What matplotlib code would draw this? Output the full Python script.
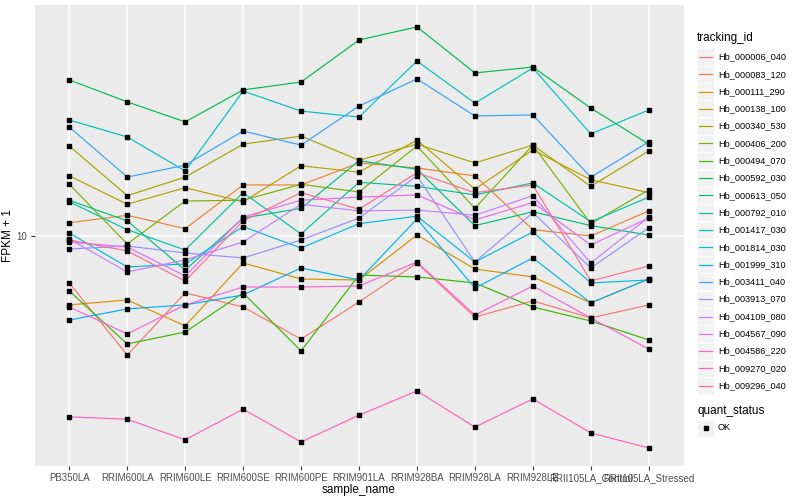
import matplotlib
matplotlib.use("Agg")
import matplotlib.pyplot as plt
from matplotlib.patches import Rectangle
from matplotlib.lines import Line2D
from matplotlib.ticker import NullLocator

plt.rcParams['font.family'] = ['Liberation Sans', 'DejaVu Sans']

samples = ["PB350LA", "RRIM600LA", "RRIM600LE", "RRIM600SE", "RRIM600PE", "RRIM901LA",
           "RRIM928BA", "RRIM928LA", "RRIM928LE", "RRII105LA_Control", "RRII105LA_Stressed"]

tracking_ids = ["Hb_000006_040", "Hb_000083_120", "Hb_000111_290", "Hb_000138_100",
                "Hb_000340_530", "Hb_000406_200", "Hb_000494_070", "Hb_000592_030",
                "Hb_000613_050", "Hb_000792_010", "Hb_001417_030", "Hb_001814_030",
                "Hb_001999_310", "Hb_003411_040", "Hb_003913_070", "Hb_004109_080",
                "Hb_004567_090", "Hb_004586_220", "Hb_009270_020", "Hb_009296_040"]

# ggplot default hue palette for 20 levels
colors = ["#F8766D", "#EA8331", "#D89000", "#C09B00", "#A3A500", "#7CAE00", "#39B600",
          "#00BB4E", "#00BF7D", "#00C1A3", "#00BFC4", "#00BAE0", "#00B0F6", "#35A2FF",
          "#9590FF", "#C77CFF", "#E76BF3", "#FA62DB", "#FF62BC", "#FF6C91"]

# FPKM + 1, one list per tracking_id, in sample order
hb_000006_040 = [6.49, 3.34, 5.92, 5.20, 3.87, 5.45, 7.80, 4.74, 5.50, 4.70, 5.30]
hb_000083_120 = [11.3, 12.1, 10.7, 16.0, 16.0, 19.6, 18.7, 17.4, 10.6, 10.0, 12.6]
hb_000111_290 = [5.30, 5.55, 4.37, 7.80, 6.73, 6.67, 10.09, 7.38, 6.86, 5.40, 6.73]
hb_000138_100 = [17.4, 13.4, 15.6, 13.7, 19.1, 18.0, 24.2, 15.4, 22.1, 16.8, 14.9]
hb_000340_530 = [22.9, 14.5, 17.2, 23.3, 25.1, 20.1, 23.3, 19.6, 23.1, 15.8, 21.9]
hb_000406_200 = [16.1, 9.29, 13.8, 13.9, 16.1, 15.0, 22.9, 12.9, 23.1, 11.2, 15.3]
hb_000494_070 = [6.03, 3.70, 4.13, 5.92, 3.47, 6.98, 6.86, 6.49, 5.20, 4.57, 3.84]
hb_000592_030 = [42.1, 34.4, 28.6, 38.4, 41.3, 60.8, 68.6, 44.9, 47.4, 32.5, 23.3]
hb_000613_050 = [13.9, 11.5, 7.31, 11.8, 12.9, 20.0, 18.5, 11.0, 12.5, 11.0, 10.09]
hb_000792_010 = [13.7, 10.6, 8.79, 14.9, 10.19, 16.4, 15.8, 14.6, 16.3, 11.4, 14.3]
hb_001417_030 = [29.1, 24.9, 18.2, 38.0, 31.6, 29.9, 50.1, 34.0, 47.0, 25.6, 31.9]
hb_001814_030 = [10.28, 7.52, 7.73, 10.9, 8.95, 11.2, 12.0, 7.87, 10.38, 6.49, 6.67]
hb_001999_310 = [4.61, 5.11, 5.30, 5.81, 7.45, 6.67, 11.7, 6.19, 8.17, 5.40, 6.73]
hb_003411_040 = [27.3, 17.2, 19.2, 26.3, 23.1, 33.1, 42.5, 30.2, 30.5, 17.2, 23.8]
hb_003913_070 = [8.87, 9.12, 8.55, 8.17, 9.64, 11.8, 17.4, 7.87, 12.4, 7.45, 10.8]
hb_004109_080 = [9.73, 7.18, 8.02, 9.46, 13.4, 12.6, 12.7, 12.1, 14.5, 7.80, 11.9]
hb_004567_090 = [9.46, 9.04, 6.92, 11.9, 13.9, 14.3, 14.6, 11.6, 13.6, 9.21, 11.8]
hb_004586_220 = [5.20, 4.06, 5.30, 6.25, 6.25, 6.31, 7.87, 4.83, 6.31, 4.70, 3.53]
hb_009270_020 = [1.89, 1.85, 1.53, 2.03, 1.50, 1.92, 2.40, 1.72, 2.23, 1.63, 1.42]
hb_009296_040 = [9.64, 8.71, 6.61, 11.5, 14.9, 12.8, 17.9, 14.9, 16.0, 6.61, 7.59]

series = [hb_000006_040, hb_000083_120, hb_000111_290, hb_000138_100, hb_000340_530,
          hb_000406_200, hb_000494_070, hb_000592_030, hb_000613_050, hb_000792_010,
          hb_001417_030, hb_001814_030, hb_001999_310, hb_003411_040, hb_003913_070,
          hb_004109_080, hb_004567_090, hb_004586_220, hb_009270_020, hb_009296_040]

fig = plt.figure(figsize=(8, 5), dpi=100)
ax = fig.add_axes([34.5/800, 1 - 466/500, 649/800, 461/500])
ax.set_facecolor("#EBEBEB")

xs = list(range(len(samples)))
for vals, c in zip(series, colors):
    ax.plot(xs, vals, color=c, lw=0.85, zorder=2)
for vals in series:
    ax.plot(xs, vals, 's', color='black', ms=2.2, zorder=3)

ax.set_yscale('log')
ax.set_ylim(10**0.08, 10**1.924)
ax.set_xlim(-0.6, len(samples) - 0.4)
ax.set_yticks([10])
ax.set_yticklabels(['10'])
ax.yaxis.set_minor_locator(NullLocator())
ax.set_xticks(xs)
ax.set_xticklabels(samples)
ax.grid(True, color='white', lw=1.1)
ax.set_axisbelow(True)
for s in ax.spines.values():
    s.set_visible(False)
ax.tick_params(axis='both', colors='#333333', length=3, width=0.8, labelsize=7, pad=2)
for lab in ax.get_xticklabels() + ax.get_yticklabels():
    lab.set_color('#4D4D4D')
ax.set_xlabel("sample_name", fontsize=8.5, labelpad=1)
ax.set_ylabel("FPKM + 1", fontsize=8.5)
ax.yaxis.set_label_coords(-0.031, 0.5)

# legend, drawn ggplot style
def fx(px):
    return px / 800.0

def fy(py):
    return 1 - py / 500.0

fig.text(fx(697), fy(38), "tracking_id", fontsize=8.5, va='center', ha='left')
for i, (tid, c) in enumerate(zip(tracking_ids, colors)):
    yc = 57 + 17.3 * i
    fig.patches.append(Rectangle((fx(697), fy(yc + 8.5)), fx(17), 17/500.0,
                                 transform=fig.transFigure, facecolor='#F2F2F2',
                                 edgecolor='white', lw=0.5))
    fig.lines.append(Line2D([fx(699), fx(712)], [fy(yc), fy(yc)], color=c, lw=0.85,
                            transform=fig.transFigure))
    fig.text(fx(718), fy(yc), tid, fontsize=6.6, va='center', ha='left')

fig.text(fx(697), fy(411), "quant_status", fontsize=8.5, va='center', ha='left')
fig.patches.append(Rectangle((fx(697), fy(428 + 8.5)), fx(17), 17/500.0,
                             transform=fig.transFigure, facecolor='#F2F2F2',
                             edgecolor='white', lw=0.5))
fig.lines.append(Line2D([fx(705.5)], [fy(428)], marker='s', color='black', ms=2.2,
                        transform=fig.transFigure))
fig.text(fx(718), fy(428), "OK", fontsize=6.6, va='center', ha='left')

plt.savefig("out.png", dpi=100)
